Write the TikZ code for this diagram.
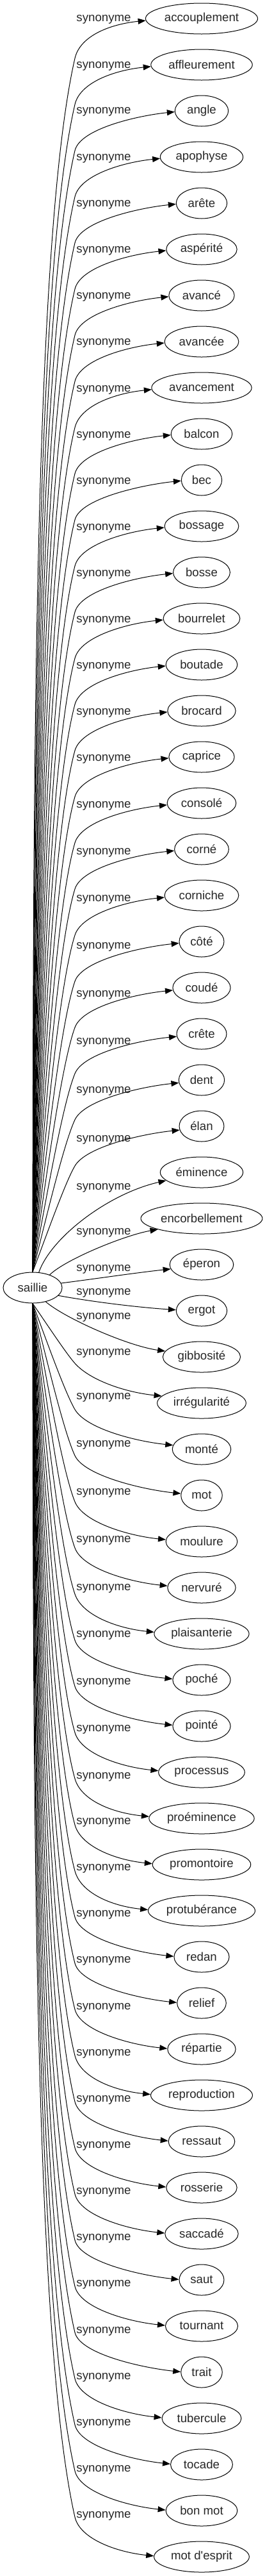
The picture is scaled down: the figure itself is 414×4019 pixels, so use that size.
\documentclass[tikz,border=0pt]{standalone}
\usepackage{fontspec}
\setmainfont{Liberation Sans}[Ligatures=TeXOff]
\usetikzlibrary{arrows.meta,calc,shapes.geometric}
\newcommand{\gvfont}{\fontsize{18.67pt}{22pt}\selectfont}
% pad a word so that its ellipse gets the graph's width
\newcommand{\gvword}[1]{\setbox0=\hbox{#1}\hbox to \dimexpr0.919\wd0+17pt\relax{\hss\box0\hss}}

\begin{document}
\begin{tikzpicture}[x=1pt,y=-1pt,
  word/.style={draw,ellipse,line width=1pt,inner sep=0pt,minimum height=48pt,font=\gvfont,text=black!85},
  lab/.style={font=\gvfont,text=black!85,inner sep=0pt},
  syn/.style={line width=1pt,-{Triangle[length=12pt,width=9pt]}}]
\useasboundingbox (0,0) rectangle (414,4019);
% source word
\node[word,minimum width=92pt] (saillie) at (51,2009) {saillie};
% targets: name / label offset / arrival angle
\foreach \nm/\dy/\ang [count=\i] in {accouplement/1/182,affleurement/2/182,angle/1/182,apophyse/2/182,
  arête/2/182,aspérité/2/182,avancé/2/182,avancée/2/182,avancement/3/182,balcon/3/182,bec/3/182,
  bossage/3/182,bosse/3/182,bourrelet/3/182,boutade/3/182,brocard/3/182,caprice/3/182,consolé/4/183,
  corné/5/183,corniche/6/183,côté/8/184,coudé/11/185,crête/13/186,dent/17/187,élan/21/190,
  éminence/24/193,encorbellement/22/194,éperon/7/188,ergot/-28/178,gibbosité/-62/171,
  irrégularité/-78/170,monté/-81/172,mot/-79/175,moulure/-76/177,nervuré/-74/177,plaisanterie/-71/178,
  poché/-70/178,pointé/-68/178,processus/-67/178,proéminence/-65/178,promontoire/-66/179,
  protubérance/-66/179,redan/-66/179,relief/-66/179,répartie/-65/179,reproduction/-65/179,
  ressaut/-65/179,rosserie/-65/179,saccadé/-65/179,saut/-65/179,tournant/-65/179,trait/-64/179,
  tubercule/-64/179,tocade/-64/179,bon mot/-64/179,mot d'esprit/-64/179}{
  \pgfmathsetmacro\ny{29+72*(\i-1)}
  \node[word] (w\i) at (315,\ny) {\gvword{\nm}};
  \node[lab] (l\i) at (162,\ny+\dy) {synonyme};
  \ifnum\i<26
    % upper fan: up the bundle, then bend right
    \pgfmathsetmacro\yb{\ny+62}
    \pgfmathsetmacro\dd{1985-\yb}
    \pgfmathsetmacro\ss{max(0,1-\dd/1900)}
    \pgfmathsetmacro\xa{52+26*\ss}
    \pgfmathsetmacro\ya{1985-0.4*\dd}
    \pgfmathsetmacro\xb{52+55.25*\ss}
    \pgfmathsetmacro\yc{\yb+0.15*\dd}
    \pgfmathsetmacro\tl{veclen(117-\xb,0.15*\dd)}
    \pgfmathsetmacro\xc{117+35*(117-\xb)/\tl}
    \pgfmathsetmacro\ycc{\yb-35*0.15*\dd/\tl}
    \coordinate (b\i) at (117,\yb);
    \draw[syn] (saillie.north) .. controls (\xa,\ya) and (\xb,\yc) .. (b\i)
      .. controls (\xc,\ycc) and ($(w\i.\ang)+(-58,6)$) .. (w\i.\ang);
  \fi
  \ifnum\i>30
    % lower fan: mirror of the upper one
    \pgfmathsetmacro\yb{\ny-62}
    \pgfmathsetmacro\dd{\yb-2034}
    \pgfmathsetmacro\ss{max(0,1-\dd/1900)}
    \pgfmathsetmacro\xa{52+26*\ss}
    \pgfmathsetmacro\ya{2034+0.4*\dd}
    \pgfmathsetmacro\xb{52+55.25*\ss}
    \pgfmathsetmacro\yc{\yb-0.15*\dd}
    \pgfmathsetmacro\tl{veclen(117-\xb,0.15*\dd)}
    \pgfmathsetmacro\xc{117+35*(117-\xb)/\tl}
    \pgfmathsetmacro\ycc{\yb+35*0.15*\dd/\tl}
    \coordinate (b\i) at (117,\yb);
    \draw[syn] (saillie.south) .. controls (\xa,\ya) and (\xb,\yc) .. (b\i)
      .. controls (\xc,\ycc) and ($(w\i.\ang)+(-58,-6)$) .. (w\i.\ang);
  \fi
}
% edges next to the source
\draw[syn] (saillie.68) .. controls (80,1930) and (170,1862) .. (w26.193);
\draw[syn] (saillie.37) .. controls (102,1965) and (195,1927) .. (w27.194);
\draw[syn] (saillie.9) .. controls (150,1995) and (210,1986) .. (w28.188);
\draw[syn] (saillie.343) .. controls (150,2032) and (220,2040) .. (w29.178);
\draw[syn] (saillie.313) .. controls (102,2057) and (200,2100) .. (w30.171);
\end{tikzpicture}
\end{document}
